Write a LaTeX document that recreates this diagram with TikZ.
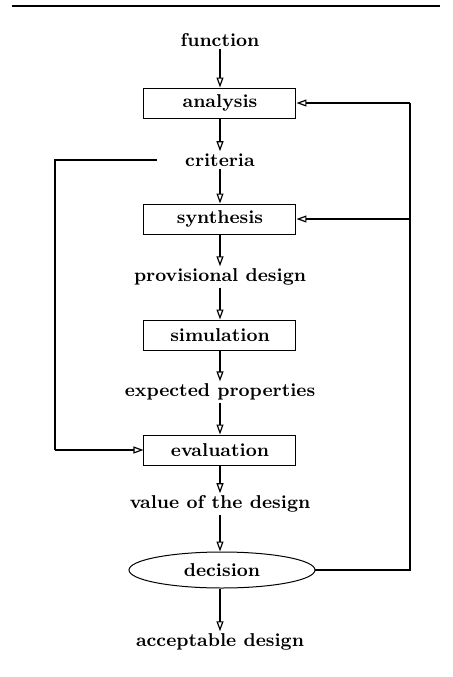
\documentclass[tikz,border=0pt]{standalone}
\usetikzlibrary{arrows.meta,shapes.geometric}
\begin{document}
\begin{tikzpicture}[x=0.5pt,y=-0.5pt,
  txt/.style={font=\fontsize{9.3}{11}\selectfont\bfseries, inner sep=1pt},
  boxnode/.style={draw, line width=0.5pt, minimum width=76pt, minimum height=15pt, inner sep=0pt, font=\fontsize{9.3}{11}\selectfont\bfseries},
  ellnode/.style={ellipse, draw, line width=0.5pt, minimum width=93pt, minimum height=18pt, inner sep=0pt, font=\fontsize{9.3}{11}\selectfont\bfseries},
  flow/.style={line width=0.6pt, -{Triangle[open,length=5pt,width=3.5pt]}},
  link/.style={line width=0.6pt}]
\useasboundingbox (0,0) rectangle (453,677);
\draw[line width=1.3pt] (12,6) -- (440,6);
\node[txt] (fun) at (220,40) {function};
\node[boxnode] (ana) at (220,103) {analysis};
\node[txt] (cri) at (220,160) {criteria};
\node[boxnode] (syn) at (220,219) {synthesis};
\node[txt] (pro) at (220,277) {provisional design};
\node[boxnode] (sim) at (220,335) {simulation};
\node[txt] (exp) at (220,392) {expected properties};
\node[boxnode] (eva) at (220,450) {evaluation};
\node[txt] (val) at (220,504) {value of the design};
\node[ellnode] (dec) at (222,570) {decision};
\node[txt] (acc) at (220,642) {acceptable design};
\coordinate (rtop) at (410,103);
\coordinate (rsyn) at (410,219);
\coordinate (rbot) at (410,570);
\coordinate (lstart) at (157,160);
\coordinate (ltop) at (55,160);
\coordinate (lbot) at (55,450);
\draw[flow] (fun) -- (ana);
\draw[flow] (ana) -- (cri);
\draw[flow] (cri) -- (syn);
\draw[flow] (syn) -- (pro);
\draw[flow] (pro) -- (sim);
\draw[flow] (sim) -- (exp);
\draw[flow] (exp) -- (eva);
\draw[flow] (eva) -- (val);
\draw[flow] (val) -- (val |- dec.north);
\draw[flow] (dec.south -| acc) -- (acc);
\draw[link] (dec.east) -- (rbot) -- (rtop);
\draw[flow] (rtop) -- (ana.east);
\draw[flow] (rsyn) -- (syn.east);
\draw[link] (lstart) -- (ltop) -- (lbot);
\draw[flow] (lbot) -- (eva.west);
\end{tikzpicture}
\end{document}
